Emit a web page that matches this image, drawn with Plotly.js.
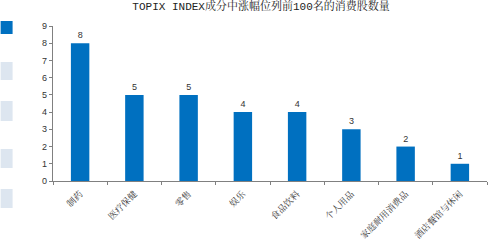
<!DOCTYPE html>
<html><head><meta charset="utf-8">
<script src="https://cdn.plot.ly/plotly-3.0.1.min.js"></script>
<style>html,body{margin:0;padding:0;background:#fff}#c{width:488px;height:249px}</style>
</head><body><div id="c"></div>
<script>
const categories = ['制药','医疗保健','零售','娱乐','食品饮料','个人用品','家庭耐用消费品','酒店餐馆与休闲'];
const counts = [8,5,5,4,4,3,2,1];
const yTicks = [0,1,2,3,4,5,6,7,8,9];
const titleText = 'TOPIX INDEX成分中涨幅位列前100名的消费股数量';

const cjk = '"Noto Serif CJK SC","Noto Sans CJK SC",serif';
const trace = {
  type:'bar', x:categories, y:counts,
  marker:{color:'#0070C0'},
  text:counts.map(String), textposition:'outside', cliponaxis:false,
  textfont:{family:'Liberation Sans, Arial', size:9, color:'#333'},
  width:0.34, hoverinfo:'skip'
};
const leftShapes = [
  {y0:21,y1:34,c:'#0070C0'},
  {y0:62,y1:80,c:'#dde6f0'},
  {y0:101,y1:121,c:'#dde6f0'},
  {y0:149,y1:168,c:'#dde6f0'},
  {y0:189,y1:208,c:'#dde6f0'}
].map(s=>({type:'rect',xref:'paper',yref:'paper',
  x0:-52.5/435, x1:-40.5/435,
  y0:(249-68-s.y1)/155, y1:(249-68-s.y0)/155,
  fillcolor:s.c, line:{width:0}, layer:'above'}));
const layout = {
  width:488, height:249,
  margin:{l:52.5,r:1,t:26,b:68,pad:0},
  paper_bgcolor:'#fff', plot_bgcolor:'#fff',
  showlegend:false,
  title:{text:titleText, x:0.535, xanchor:'center', y:0.992, yanchor:'top',
    font:{family:'"Liberation Mono","Noto Serif CJK SC","Noto Sans CJK SC",monospace', size:11, color:'#222'}},
  xaxis:{type:'category', tickangle:-45, showline:true, linecolor:'#808080', linewidth:1.2,
    ticks:'outside', ticklen:3, tickcolor:'#808080', tickson:'boundaries', ticklabelstandoff:3,
    tickfont:{family:cjk, size:9, color:'#333'}, showgrid:false, zeroline:false,
    range:[-0.5,7.5], fixedrange:true},
  yaxis:{range:[0,9], tickvals:yTicks, showline:true, linecolor:'#808080', linewidth:1.2,
    ticks:'outside', ticklen:3, tickcolor:'#808080',
    tickfont:{family:'Liberation Sans, Arial', size:9, color:'#333'},
    showgrid:false, zeroline:false, fixedrange:true},
  shapes:leftShapes
};
Plotly.newPlot('c',[trace],layout,{staticPlot:true,displayModeBar:false});
</script></body></html>
